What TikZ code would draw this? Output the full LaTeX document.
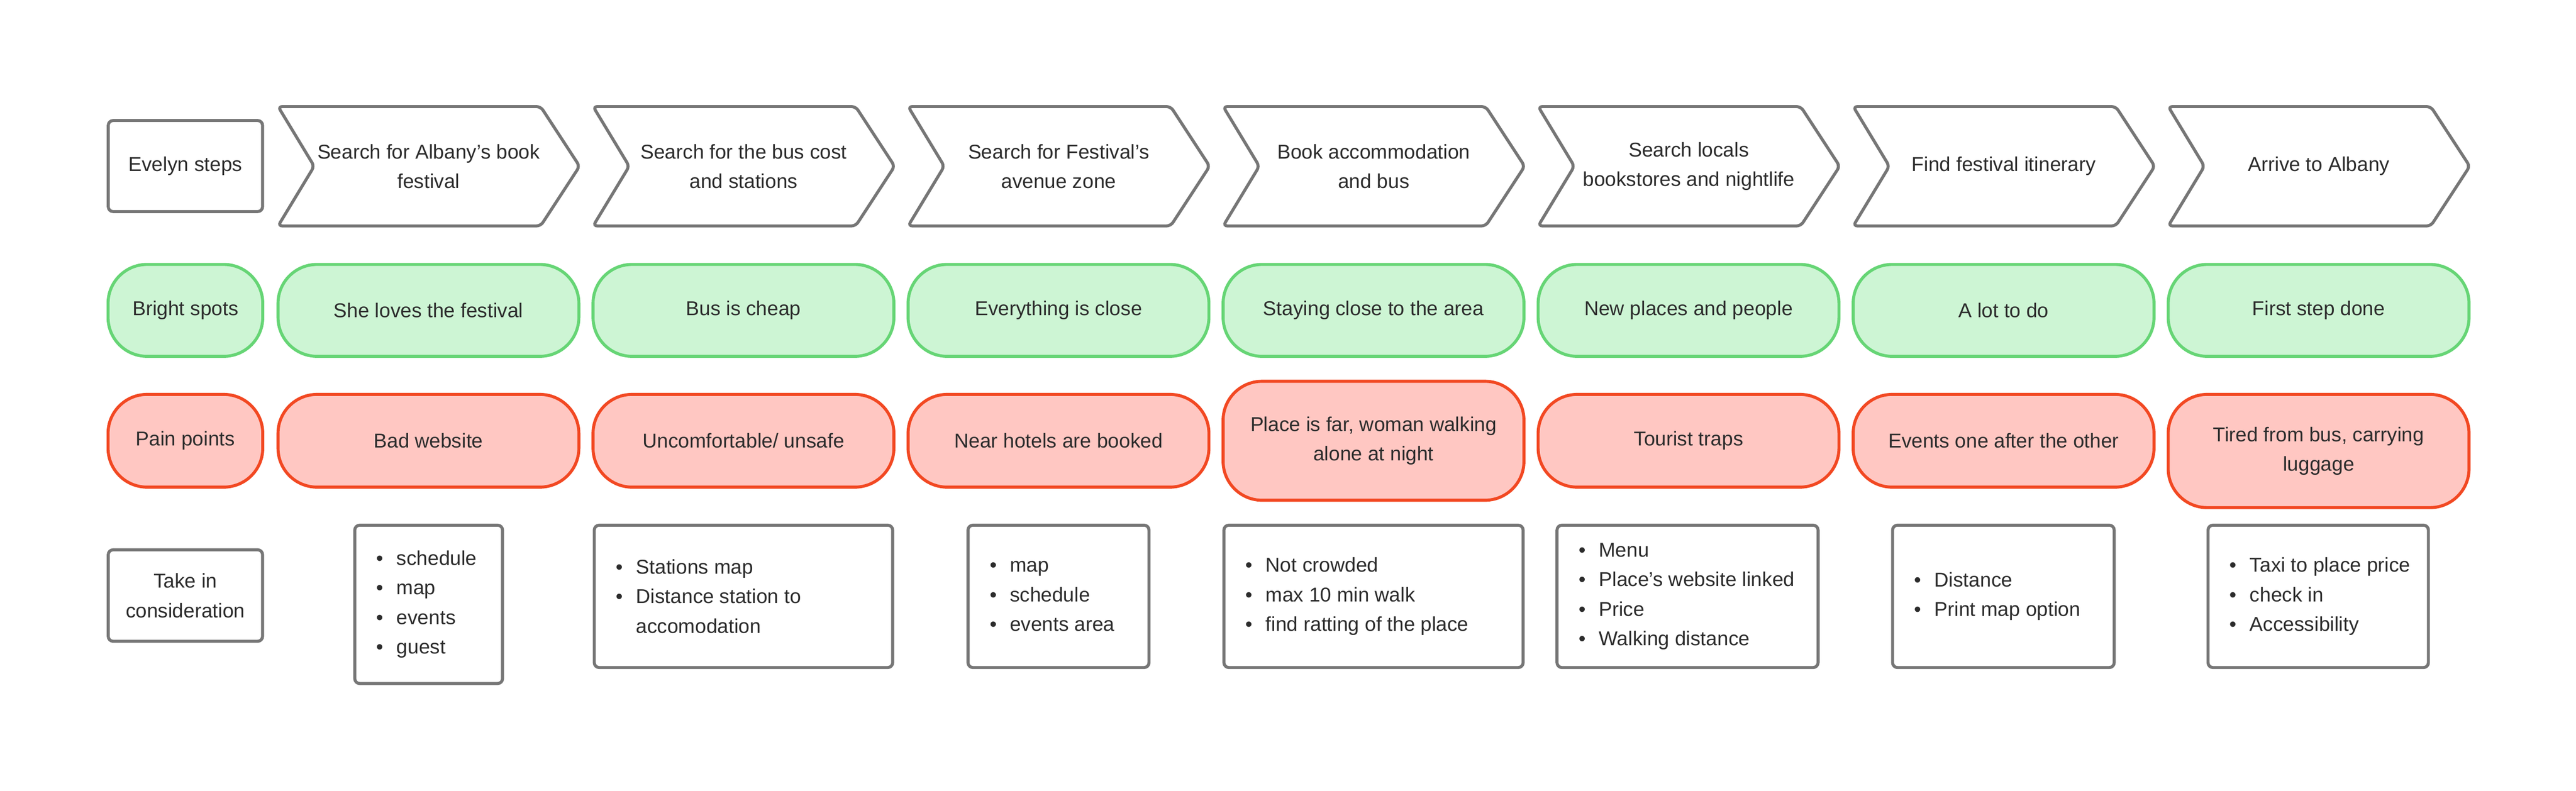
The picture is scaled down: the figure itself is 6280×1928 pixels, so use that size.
\documentclass[tikz,border=0pt]{standalone}
\usepackage{fontspec}
\setmainfont{Liberation Sans}
\definecolor{gline}{HTML}{767676}
\definecolor{gstroke}{HTML}{66D575}
\definecolor{gfill}{HTML}{CDF5D4}
\definecolor{rstroke}{HTML}{F24822}
\definecolor{rfill}{HTML}{FFC7C2}
\definecolor{txt}{HTML}{2C2C2C}
\newcommand\itm[1]{\makebox[0.49cm][l]{•}#1}
\newcommand\itmc[1]{\hspace*{0.49cm}#1}
\newcommand\mkchev[3]{%
  \draw[chev] (#2,260) -- ++(640,0) -- ++(95,145.5) -- ++(-95,145.5) -- ++(-640,0) -- ++(88,-145.5) -- cycle;
  \node[align=center] (#1) at (#2+367,405.5) {#3};
}
\tikzset{
  every node/.style={font=\fontsize{13.9pt}{20.5pt}\selectfont, text=txt},
  graybox/.style={draw=gline, line width=2.1pt, rounded corners=0.12cm, fill=white, align=center},
  goodbox/.style={draw=gstroke, fill=gfill, line width=2.1pt, rounded corners=0.95cm, align=center, minimum width=7.33cm, minimum height=2.24cm},
  badbox/.style={draw=rstroke, fill=rfill, line width=2.1pt, rounded corners=0.95cm, align=center, minimum width=7.33cm, minimum height=2.26cm},
  chev/.style={draw=gline, line width=2.1pt, rounded corners=0.1cm, fill=white},
  listtext/.style={anchor=west, inner sep=0pt, align=left},
}
\begin{document}
\begin{tikzpicture}[x=0.01cm, y=-0.01cm]
\fill[white] (0,0) rectangle (6280,1928);
\useasboundingbox (0,0) rectangle (6280,1928);

% label column
\node[graybox, minimum width=3.76cm, minimum height=2.22cm] (evelyn) at (452,405) {Evelyn steps};
\node[goodbox, minimum width=3.77cm] (bright) at (452,757) {Bright spots};
\node[badbox, minimum width=3.77cm] (pain) at (452,1075) {Pain points};
\node[graybox, minimum width=3.76cm, minimum height=2.23cm] (take) at (452,1452.5) {Take in\\consideration};

% chevrons
\mkchev{s1}{678}{Search for Albany’s book\\festival}
\mkchev{s2}{1446}{Search for the bus cost\\and stations}
\mkchev{s3}{2214}{Search for Festival’s\\avenue zone}
\mkchev{s4}{2982}{Book accommodation\\and bus}
\mkchev{s5}{3750}{Search locals\\bookstores and nightlife}
\mkchev{s6}{4518}{Find festival itinerary}
\mkchev{s7}{5286}{Arrive to Albany}

% bright spots
\node[goodbox] (g1) at (1044.5,757) {She loves the festival};
\node[goodbox] (g2) at (1812.5,757) {Bus is cheap};
\node[goodbox] (g3) at (2580.5,757) {Everything is close};
\node[goodbox] (g4) at (3348.5,757) {Staying close to the area};
\node[goodbox] (g5) at (4116.5,757) {New places and people};
\node[goodbox] (g6) at (4884.5,757) {A lot to do};
\node[goodbox] (g7) at (5652.5,757) {First step done};

% pain points
\node[badbox] (p1) at (1044.5,1075) {Bad website};
\node[badbox] (p2) at (1812.5,1075) {Uncomfortable/ unsafe};
\node[badbox] (p3) at (2580.5,1075) {Near hotels are booked};
\node[badbox, minimum height=2.90cm] (p4) at (3348.5,1075) {Place is far, woman walking\\alone at night};
\node[badbox] (p5) at (4116.5,1075) {Tourist traps};
\node[badbox] (p6) at (4884.5,1075) {Events one after the other};
\node[badbox, minimum height=2.76cm] (p7) at (5652.5,1100) {Tired from bus, carrying\\luggage};

% take in consideration boxes
\node[graybox, minimum width=3.60cm, minimum height=3.86cm] (b1) at (1045,1474) {};
\node[graybox, minimum width=7.27cm, minimum height=3.47cm] (b2) at (1812.5,1454.5) {};
\node[graybox, minimum width=4.41cm, minimum height=3.47cm] (b3) at (2580.5,1454.5) {};
\node[graybox, minimum width=7.29cm, minimum height=3.47cm] (b4) at (3348.5,1454.5) {};
\node[graybox, minimum width=6.36cm, minimum height=3.47cm] (b5) at (4114,1454.5) {};
\node[graybox, minimum width=5.40cm, minimum height=3.47cm] (b6) at (4884,1454.5) {};
\node[graybox, minimum width=5.37cm, minimum height=3.47cm] (b7) at (5651.5,1454.5) {};

\node[listtext] (l1) at ([xshift=0.56cm]b1.west) {\itm{schedule}\\\itm{map}\\\itm{events}\\\itm{guest}};
\node[listtext] (l2) at ([xshift=0.56cm]b2.west) {\itm{Stations map}\\\itm{Distance station to}\\\itmc{accomodation}};
\node[listtext] (l3) at ([xshift=0.56cm]b3.west) {\itm{map}\\\itm{schedule}\\\itm{events area}};
\node[listtext] (l4) at ([xshift=0.56cm]b4.west) {\itm{Not crowded}\\\itm{max 10 min walk}\\\itm{find ratting of the place}};
\node[listtext] (l5) at ([xshift=0.56cm]b5.west) {\itm{Menu}\\\itm{Place’s website linked}\\\itm{Price}\\\itm{Walking distance}};
\node[listtext] (l6) at ([xshift=0.56cm]b6.west) {\itm{Distance}\\\itm{Print map option}};
\node[listtext] (l7) at ([xshift=0.56cm]b7.west) {\itm{Taxi to place price}\\\itm{check in}\\\itm{Accessibility}};
\end{tikzpicture}
\end{document}
